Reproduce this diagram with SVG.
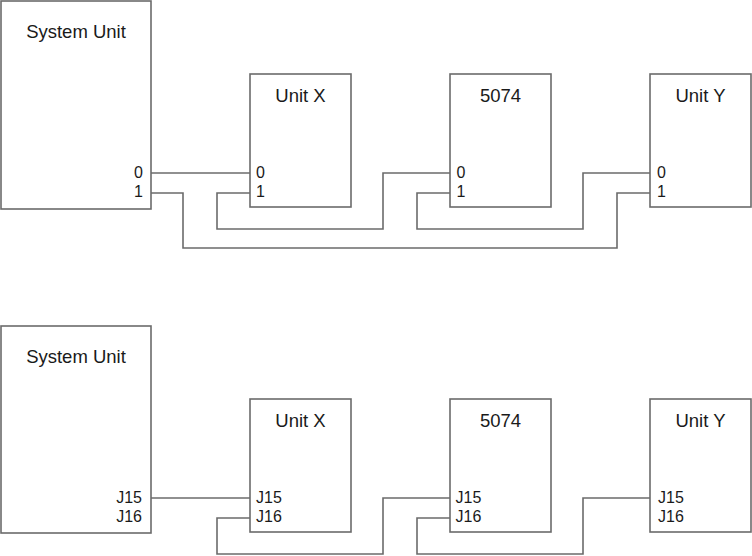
<svg xmlns="http://www.w3.org/2000/svg" width="752" height="556" viewBox="0 0 752 556">
<style>
.box{fill:#fff;stroke:#6b6b6b;stroke-width:1.6}
.wire{fill:none;stroke:#6b6b6b;stroke-width:1.6}
.t{font-family:"Liberation Sans",Arial,sans-serif;font-size:18.5px;fill:#1a1a1a;text-anchor:middle}
.p{font-family:"Liberation Sans",Arial,sans-serif;font-size:16px;fill:#1a1a1a}
.r{text-anchor:end}
</style>
<rect width="752" height="556" fill="#fff"/>
<g id="connectors">
<path class="wire" d="M151 173H250"/>
<path class="wire" d="M151 193H183V248H617V193H650"/>
<path class="wire" d="M250 193H217V229H383V173H450"/>
<path class="wire" d="M450 193H417V229H583V173H650"/>
<path class="wire" d="M151 498H250"/>
<path class="wire" d="M250 518H217V554H383V498H450"/>
<path class="wire" d="M450 518H417V554H583V498H650"/>
</g>
<g id="su1"><rect class="box" x="1" y="1" width="150" height="208"/>
<text class="t" x="76" y="38">System Unit</text>
<text class="p r" x="143" y="178">0</text><text class="p r" x="143" y="197">1</text></g>
<g id="ux1"><rect class="box" x="250" y="74" width="101" height="133"/>
<text class="t" x="300.5" y="102">Unit X</text>
<text class="p" x="256" y="178">0</text><text class="p" x="256" y="197">1</text></g>
<g id="c1"><rect class="box" x="450" y="74" width="101" height="133"/>
<text class="t" x="500.5" y="102">5074</text>
<text class="p" x="456.5" y="178">0</text><text class="p" x="456.5" y="197">1</text></g>
<g id="uy1"><rect class="box" x="650" y="74" width="101" height="133"/>
<text class="t" x="700.5" y="102">Unit Y</text>
<text class="p" x="657" y="178">0</text><text class="p" x="657" y="197">1</text></g>
<g id="su2"><rect class="box" x="1" y="326" width="150" height="207"/>
<text class="t" x="76" y="363">System Unit</text>
<text class="p r" x="142" y="503">J15</text><text class="p r" x="142" y="522">J16</text></g>
<g id="ux2"><rect class="box" x="250" y="399" width="101" height="133"/>
<text class="t" x="300.5" y="427">Unit X</text>
<text class="p" x="256" y="503">J15</text><text class="p" x="256" y="522">J16</text></g>
<g id="c2"><rect class="box" x="450" y="399" width="101" height="133"/>
<text class="t" x="500.5" y="427">5074</text>
<text class="p" x="455.5" y="503">J15</text><text class="p" x="455.5" y="522">J16</text></g>
<g id="uy2"><rect class="box" x="650" y="399" width="101" height="133"/>
<text class="t" x="700.5" y="427">Unit Y</text>
<text class="p" x="658" y="503">J15</text><text class="p" x="658" y="522">J16</text></g>
</svg>
